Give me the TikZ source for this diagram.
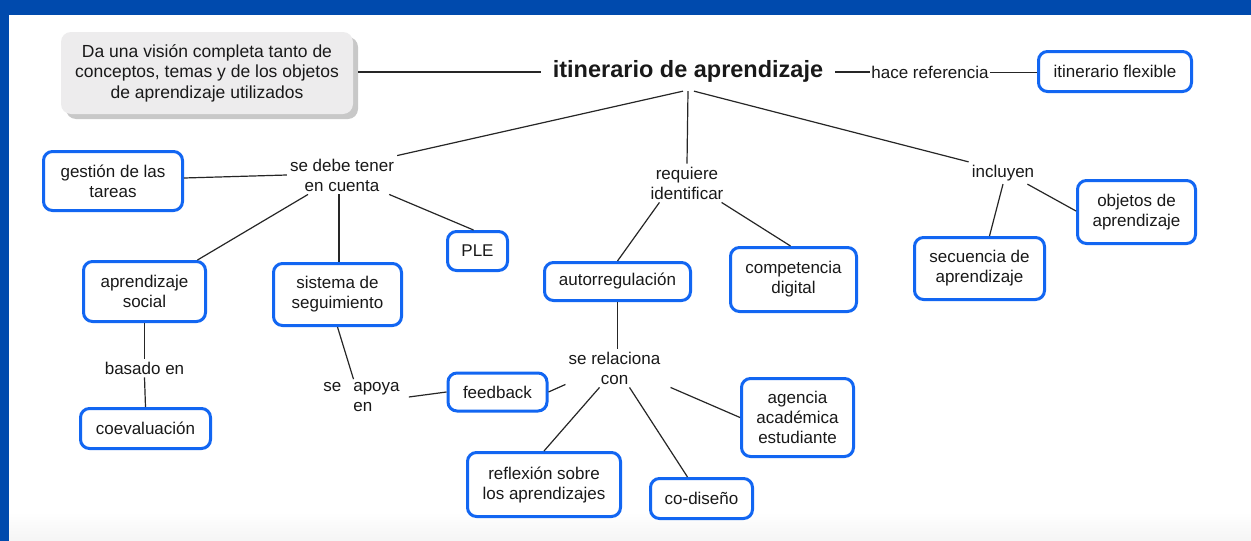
\documentclass[tikz,border=0pt]{standalone}
\usepackage{fontspec}
\setmainfont{Liberation Sans}
\usetikzlibrary{shadows}
\definecolor{frameblue}{RGB}{0,74,173}
\definecolor{boxblue}{RGB}{18,102,242}
\definecolor{graybox}{RGB}{237,236,237}
\definecolor{shadowgray}{RGB}{200,200,200}
\definecolor{ink}{RGB}{25,25,25}
\begin{document}
\begin{tikzpicture}[x=1pt,y=-1pt,
  every node/.style={font=\fontsize{17}{20}\selectfont, align=center, text=ink},
  concept/.style={draw=boxblue, line width=3pt, rounded corners=9pt, fill=white, inner sep=2pt},
  lbl/.style={inner sep=3pt},
  link/.style={line width=1.2pt, black!85}]
\useasboundingbox (0,0) rectangle (1251,541);
% background and frame
\fill[white] (0,0) rectangle (1251,541);
\shade[top color=white, bottom color=black!4] (9,512) rectangle (1251,541);
\fill[frameblue] (0,0) rectangle (1251,15);
\fill[frameblue] (0,0) rectangle (9,541);

% nodes
\node[fill=graybox, rounded corners=10pt, minimum width=292pt, minimum height=82pt,
      font=\fontsize{17.5}{20.5}\selectfont,
      drop shadow={shadow xshift=5pt, shadow yshift=-5pt, fill=shadowgray, opacity=1}]
  (vision) at (207,73) {Da una visión completa tanto de\\conceptos, temas y de los objetos\\de aprendizaje utilizados};
\node[font=\bfseries\fontsize{23.5}{28}\selectfont, inner xsep=12pt, inner ysep=9pt] (title) at (688,71) {itinerario de aprendizaje};
\node[lbl, inner xsep=1pt] (hace) at (930,72.5) {hace referencia};
\node[concept, minimum width=153pt, minimum height=40pt] (flex) at (1115,71.5) {itinerario flexible};

\node[lbl] (sedebe) at (342,175) {se debe tener\\en cuenta};
\node[lbl] (requiere) at (687,183) {requiere\\identificar};
\node[lbl] (incluyen) at (1003,173) {incluyen};

\node[concept, minimum width=139pt, minimum height=59pt] (gestion) at (113,181) {gestión de las\\tareas};
\node[concept, minimum width=118pt, minimum height=63pt] (objetos) at (1136.5,212) {objetos de\\aprendizaje};
\node[concept, minimum width=130pt, minimum height=62pt] (secuencia) at (979.5,268.5) {secuencia de\\aprendizaje};
\node[concept, minimum width=60pt, minimum height=39pt] (ple) at (477.5,251) {PLE};
\node[concept, minimum width=122pt, minimum height=60pt] (aprsocial) at (144.5,291.5) {aprendizaje\\social};
\node[concept, minimum width=128pt, minimum height=62pt] (sistema) at (337.5,294.5) {sistema de\\seguimiento};
\node[concept, minimum width=146pt, minimum height=38pt] (autorreg) at (617.5,281.5) {autorregulación};
\node[concept, minimum width=126pt, minimum height=64pt] (compet) at (793.5,279.5) {competencia\\digital};

\node[lbl] (basado) at (144.5,368) {basado en};
\node[concept, minimum width=130pt, minimum height=40pt] (coeval) at (145.5,428.5) {coevaluación};
\node[lbl, align=left] (seapoya) at (361.5,397) {se\hspace{12pt}apoya\\\hspace*{30pt}en};
\node[concept, minimum width=99pt, minimum height=38pt] (feedback) at (497.5,392) {feedback};
\node[lbl] (serel) at (614.5,368) {se relaciona\\con};
\node[concept, minimum width=112pt, minimum height=78pt] (agencia) at (797.5,417.5) {agencia\\académica\\estudiante};
\node[concept, minimum width=153pt, minimum height=64pt] (reflexion) at (544,484.5) {reflexión sobre\\los aprendizajes};
\node[concept, minimum width=102pt, minimum height=40pt] (codiseno) at (701.5,498.5) {co-diseño};

% connectors
\draw[link] ([xshift=5pt,yshift=1pt]vision.east) -- ([yshift=1pt]vision.east -| title.west);
\draw[link] ([yshift=-1pt]title.east) -- ([yshift=-1pt]title.east -| hace.west);
\draw[link] (hace.east) -- (hace.east -| flex.west);
\draw[link] ([xshift=-5pt]title.south) -- (sedebe.north east);
\draw[link] (title.south) -- (requiere.north);
\draw[link] ([xshift=6pt]title.south) -- (incluyen.north west);

\draw[link] ([yshift=3pt]gestion.east) -- (sedebe.west);
\draw[link] ([xshift=-34pt]sedebe.south) -- ([xshift=53pt]aprsocial.north);
\draw[link] ([xshift=-3pt]sedebe.south) -- ([xshift=1.5pt]sistema.north);
\draw[link] ([xshift=-8pt]sedebe.south east) -- ([xshift=-4pt]ple.north);

\draw[link] ([xshift=12pt]requiere.south west) -- (autorreg.north);
\draw[link] ([xshift=-5pt]requiere.south east) -- ([xshift=-3pt]compet.north);

\draw[link] (incluyen.south) -- ([xshift=10pt]secuencia.north);
\draw[link] ([xshift=-10pt]incluyen.south east) -- ([yshift=1pt]objetos.west);

\draw[link] (aprsocial.south) -- (basado.north);
\draw[link] (basado.south) -- (coeval.north);

\draw[link] (sistema.south) -- ([xshift=-8pt]seapoya.north);
\draw[link] ([xshift=6pt]seapoya.east) -- (feedback.west);

\draw[link] (autorreg.south) -- (autorreg.south |- serel.north);
\draw[link] (feedback.east) -- ([yshift=3pt]serel.south west);
\draw[link] ([xshift=-15pt]serel.south) -- (reflexion.north);
\draw[link] ([xshift=15pt]serel.south) -- ([xshift=-14pt]codiseno.north);
\draw[link] ([xshift=7pt]serel.south east) -- (agencia.west);
\end{tikzpicture}
\end{document}
